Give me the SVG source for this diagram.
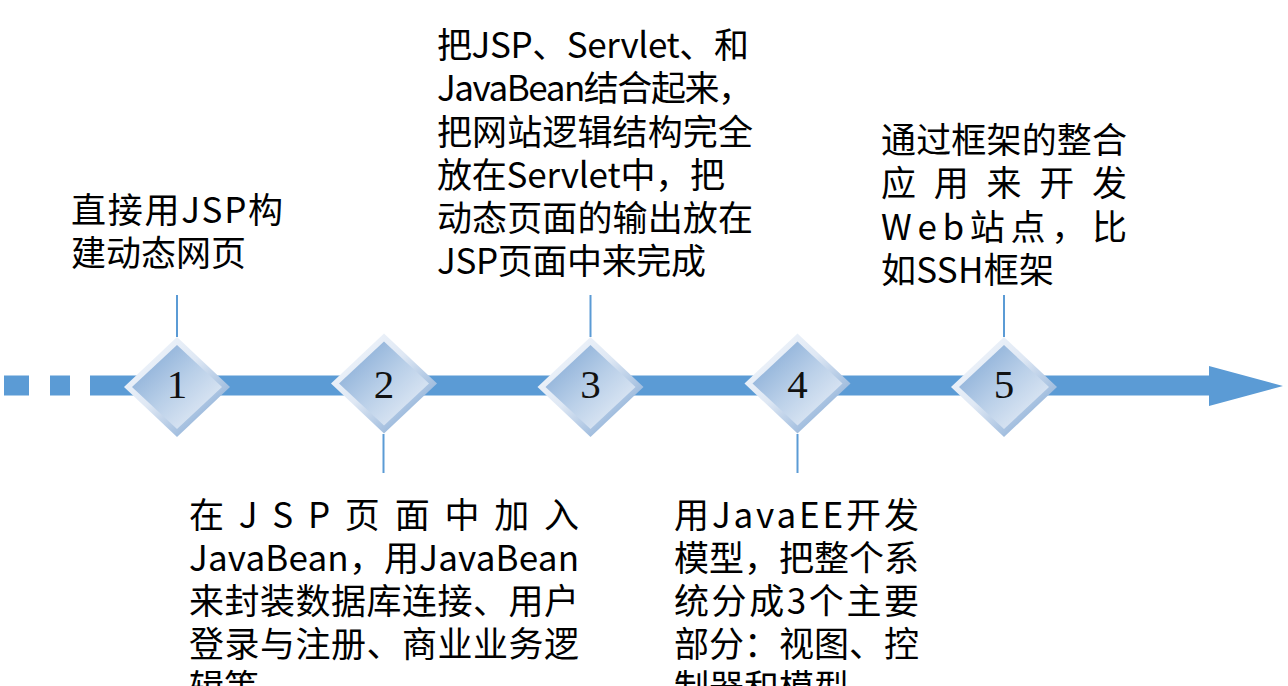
<svg xmlns="http://www.w3.org/2000/svg" width="1288" height="686" viewBox="0 0 1288 686">
<style>
.t{font-family:"Noto Sans CJK SC","Microsoft YaHei",sans-serif;font-size:35px;fill:#000}
.n{font-family:"Liberation Serif","DejaVu Serif",serif;font-size:41px;fill:#111;text-anchor:middle}
.c{stroke:#5b9bd5;stroke-width:2;fill:none}
.bar{fill:#5b9bd5}
</style>
<defs>
<linearGradient id="bevel" x1="0" y1="0" x2="1" y2="1">
<stop offset="0" stop-color="#f6f9fd"/>
<stop offset="0.45" stop-color="#dfe8f4"/>
<stop offset="1" stop-color="#6f9bcd"/>
</linearGradient>
<linearGradient id="face" x1="0" y1="0" x2="1" y2="1">
<stop offset="0" stop-color="#7aa3d2"/>
<stop offset="0.5" stop-color="#b9cfe8"/>
<stop offset="1" stop-color="#f0f4fa"/>
</linearGradient>
<g id="dia">
<polygon points="0,-50 53,0 0,50 -53,0" fill="url(#bevel)"/>
<polygon points="0,-42 45,0 0,42 -45,0" fill="url(#face)"/>
</g>
</defs>
<rect width="1288" height="686" fill="#fff"/>
<g id="timeline">
<rect class="bar" x="4" y="375.5" width="25" height="20"/>
<rect class="bar" x="50" y="375.5" width="20" height="20"/>
<polygon class="bar" points="90,375.5 1209,375.5 1209,366 1283,386 1209,406 1209,395.5 90,395.5"/>
</g>
<g id="connectors">
<line class="c" x1="177" y1="295" x2="177" y2="337"/>
<line class="c" x1="383.5" y1="434" x2="383.5" y2="473"/>
<line class="c" x1="590.5" y1="295" x2="590.5" y2="337"/>
<line class="c" x1="797.5" y1="434" x2="797.5" y2="473"/>
<line class="c" x1="1004" y1="295" x2="1004" y2="337"/>
</g>
<g id="node1"><use href="#dia" x="177" y="387"/><text class="n" x="177" y="398">1</text></g>
<g id="node2"><use href="#dia" x="384" y="383.5"/><text class="n" x="384" y="398">2</text></g>
<g id="node3"><use href="#dia" x="590.5" y="387"/><text class="n" x="590.5" y="398">3</text></g>
<g id="node4"><use href="#dia" x="797.5" y="383.5"/><text class="n" x="797.5" y="398">4</text></g>
<g id="node5"><use href="#dia" x="1004" y="387"/><text class="n" x="1004" y="398">5</text></g>
<g id="label1" class="t">
<text x="71" y="223" textLength="212" lengthAdjust="spacing">直接用JSP构</text>
<text x="71" y="266">建动态网页</text>
</g>
<g id="label2" class="t">
<text x="189" y="528" textLength="390" lengthAdjust="spacing">在JSP页面中加入</text>
<text x="189" y="571" textLength="390" lengthAdjust="spacing">JavaBean，用JavaBean</text>
<text x="189" y="614" textLength="390" lengthAdjust="spacing">来封装数据库连接、用户</text>
<text x="189" y="657" textLength="390" lengthAdjust="spacing">登录与注册、商业业务逻</text>
<text x="189" y="700">辑等</text>
</g>
<g id="label3" class="t">
<text x="437" y="58" textLength="312" lengthAdjust="spacing">把JSP、Servlet、和</text>
<text x="437" y="101" textLength="316" lengthAdjust="spacing">JavaBean结合起来，</text>
<text x="437" y="145" textLength="316" lengthAdjust="spacing">把网站逻辑结构完全</text>
<text x="437" y="188" textLength="288" lengthAdjust="spacing">放在Servlet中，把</text>
<text x="437" y="231" textLength="316" lengthAdjust="spacing">动态页面的输出放在</text>
<text x="437" y="274" textLength="269" lengthAdjust="spacing">JSP页面中来完成</text>
</g>
<g id="label4" class="t">
<text x="674" y="528" textLength="245" lengthAdjust="spacing">用JavaEE开发</text>
<text x="674" y="571" textLength="245" lengthAdjust="spacing">模型，把整个系</text>
<text x="674" y="614" textLength="245" lengthAdjust="spacing">统分成3个主要</text>
<text x="674" y="657" textLength="245" lengthAdjust="spacing">部分：视图、控</text>
<text x="674" y="700">制器和模型</text>
</g>
<g id="label5" class="t">
<text x="881" y="153" textLength="246" lengthAdjust="spacing">通过框架的整合</text>
<text x="881" y="196" textLength="246" lengthAdjust="spacing">应用来开发</text>
<text x="881" y="240" textLength="246" lengthAdjust="spacing">Web站点，比</text>
<text x="881" y="283" textLength="173" lengthAdjust="spacing">如SSH框架</text>
</g>
</svg>
